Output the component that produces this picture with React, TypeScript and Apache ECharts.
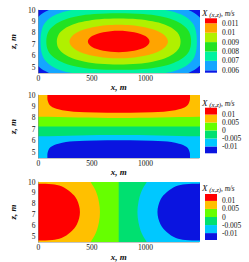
import React, { useEffect, useRef } from "react";
import * as echarts from "echarts";

const FONT = "'Liberation Serif', 'Times New Roman', serif";

// axes
const xTicks = [0, 500, 1000];
const zTicks = [5, 6, 7, 8, 9, 10];
const xMin = 0;
const xMax = 1500;
const zMin = 4.5;
const zMax = 10;

// ---------- Panel 1 : levels and contour lines (x [m], z [m]) ----------
const levels1 = [0.006, 0.007, 0.008, 0.009, 0.01, 0.011];
const colors1 = ["#0a18e6", "#14a6ff", "#00f2a0", "#22e222", "#b0f000", "#ffa400", "#ff0000"];
const domain = [[-2000, 0], [3500, 0], [3500, 15], [-2000, 15]];
const p1c006 = [[-76, 7.25], [-57, 8.65], [-1, 9.42], [94, 9.98], [230, 10.38], [415, 10.61], [750, 10.69], [1085, 10.61], [1270, 10.38], [1406, 9.98], [1501, 9.42], [1557, 8.65], [1576, 7.25], [1557, 5.85], [1501, 5.08], [1406, 4.52], [1270, 4.12], [1085, 3.89], [750, 3.81], [415, 3.89], [230, 4.12], [94, 4.52], [-1, 5.08], [-57, 5.85]];
const p1c007 = [[20, 7.25], [37, 8.46], [86, 9.13], [170, 9.62], [290, 9.96], [454, 10.16], [750, 10.23], [1046, 10.16], [1210, 9.96], [1330, 9.62], [1414, 9.13], [1463, 8.46], [1480, 7.25], [1463, 6.04], [1414, 5.37], [1330, 4.88], [1210, 4.54], [1046, 4.34], [750, 4.27], [454, 4.34], [290, 4.54], [170, 4.88], [86, 5.37], [37, 6.04]];
const p1c008 = [[74, 7.25], [92, 8.09], [148, 8.67], [238, 9.12], [362, 9.45], [520, 9.65], [750, 9.72], [980, 9.65], [1138, 9.45], [1262, 9.12], [1352, 8.67], [1408, 8.09], [1426, 7.25], [1408, 6.41], [1352, 5.83], [1262, 5.38], [1138, 5.05], [980, 4.85], [750, 4.78], [520, 4.85], [362, 5.05], [238, 5.38], [148, 5.83], [92, 6.41]];
const p1c009 = [[172, 7.25], [189, 7.87], [240, 8.34], [322, 8.73], [434, 9.01], [571, 9.19], [750, 9.25], [929, 9.19], [1066, 9.01], [1178, 8.73], [1260, 8.34], [1311, 7.87], [1328, 7.25], [1311, 6.63], [1260, 6.16], [1178, 5.77], [1066, 5.49], [929, 5.31], [750, 5.25], [571, 5.31], [434, 5.49], [322, 5.77], [240, 6.16], [189, 6.63]];
const p1c010 = [[290, 7.25], [306, 7.63], [352, 7.99], [425, 8.29], [520, 8.52], [631, 8.67], [750, 8.72], [869, 8.67], [980, 8.52], [1075, 8.29], [1148, 7.99], [1194, 7.63], [1210, 7.25], [1194, 6.87], [1148, 6.51], [1075, 6.21], [980, 5.98], [869, 5.83], [750, 5.78], [631, 5.83], [520, 5.98], [425, 6.21], [352, 6.51], [306, 6.87]];
const p1c011 = [[462, 7.25], [472, 7.49], [501, 7.72], [546, 7.91], [606, 8.06], [675, 8.15], [750, 8.18], [825, 8.15], [894, 8.06], [954, 7.91], [999, 7.72], [1028, 7.49], [1038, 7.25], [1028, 7.01], [999, 6.78], [954, 6.59], [894, 6.44], [825, 6.35], [750, 6.32], [675, 6.35], [606, 6.44], [546, 6.59], [501, 6.78], [472, 7.01]];

// ---------- Panel 2 ----------
const levels2 = [-0.01, -0.005, 0, 0.005, 0.01];
const colors2 = ["#0a14e0", "#00c8ff", "#00e070", "#66ff00", "#ffc000", "#ff0000"];
const p2Blue = [[84, 3.7], [84, 4.5], [87, 5.0], [115, 5.46], [187, 5.75], [330, 5.96], [750, 6.05], [1170, 5.96], [1313, 5.75], [1385, 5.46], [1413, 5.0], [1416, 4.5], [1416, 3.7]];
const p2Green = [[-400, 11], [1900, 11], [1900, 6.4], [1500, 6.4], [1125, 6.47], [750, 6.5], [375, 6.47], [0, 6.4], [-400, 6.4]];
const p2Yg = [[-400, 11], [1900, 11], [1900, 7.25], [1500, 7.25], [750, 7.25], [0, 7.25], [-400, 7.25]];
const p2Orange = [[-400, 11], [1900, 11], [1900, 8.1], [1500, 8.1], [1125, 8.04], [750, 8.0], [375, 8.04], [0, 8.1], [-400, 8.1]];
const p2Red = [[84, 10.8], [84, 10], [87, 9.5], [115, 9.04], [187, 8.75], [330, 8.54], [750, 8.45], [1170, 8.54], [1313, 8.75], [1385, 9.04], [1413, 9.5], [1416, 10], [1416, 10.8]];

// ---------- Panel 3 ----------
const levels3 = [-0.01, -0.005, 0, 0.005, 0.01];
const colors3 = ["#0a14e0", "#00c8ff", "#00e070", "#66ff00", "#ffc000", "#ff0000"];
const p3Blue = [[1900, 9.85], [1500, 9.85], [1371, 9.8], [1284, 9.62], [1198, 9.07], [1141, 8.4], [1112, 7.25], [1141, 6.1], [1198, 5.43], [1284, 4.88], [1371, 4.7], [1500, 4.65], [1900, 4.65]];
const p3Green = [[-400, 10.8], [1055, 10.8], [1012, 10], [965, 9.2], [935, 8.2], [925, 7.25], [935, 6.3], [965, 5.3], [1012, 4.5], [1055, 3.7], [-400, 3.7]];
const p3Yg = [[-400, 10.8], [750, 10.8], [750, 10.4], [750, 10], [750, 9], [750, 8], [750, 7], [750, 6], [750, 5], [750, 4.5], [750, 4.1], [750, 3.7], [-400, 3.7]];
const p3Orange = [[-400, 10.8], [445, 10.8], [488, 10], [535, 9.2], [565, 8.2], [575, 7.25], [565, 6.3], [535, 5.3], [488, 4.5], [445, 3.7], [-400, 3.7]];
const p3Red = [[-400, 9.85], [0, 9.85], [129, 9.8], [216, 9.62], [302, 9.07], [359, 8.4], [388, 7.25], [359, 6.1], [302, 5.43], [216, 4.88], [129, 4.7], [0, 4.65], [-400, 4.65]];

// colour-bar axis extents
const cb1 = [0.005745, 0.01153];
const cb2 = [-0.0143, 0.0143];
const cb3 = [-0.0143, 0.0143];

const layers1: [number, number[][]][] = [[0, domain], [1, p1c006], [2, p1c007], [3, p1c008], [4, p1c009], [5, p1c010], [6, p1c011]];
const layers2: [number, number[][]][] = [[1, domain], [0, p2Blue], [2, p2Green], [3, p2Yg], [4, p2Orange], [5, p2Red]];
const layers3: [number, number[][]][] = [[1, domain], [0, p3Blue], [2, p3Green], [3, p3Yg], [4, p3Orange], [5, p3Red]];

function contourSeries(idx: number, layers: [number, number[][]][], colors: string[]) {
  return {
    type: "custom",
    xAxisIndex: idx,
    yAxisIndex: idx,
    clip: true,
    silent: true,
    data: layers.map((l, i) => [l[1][0][0], l[1][0][1], i]),
    encode: { x: 0, y: 1 },
    renderItem: (_p: any, api: any) => {
      const layer = layers[api.value(2)];
      return {
        type: "polygon",
        shape: { points: layer[1].map((pt) => api.coord(pt)), smooth: 0.35 },
        style: { fill: colors[layer[0]], stroke: null },
      };
    },
  };
}

function barSeries(idx: number, levels: number[], ext: number[], colors: string[]) {
  const edges = [ext[0], ...levels, ext[1]];
  return {
    type: "custom",
    xAxisIndex: idx,
    yAxisIndex: idx,
    silent: true,
    data: colors.map((_c, i) => [0, edges[i], edges[i + 1], i]),
    encode: { x: 0, y: [1, 2] },
    renderItem: (_p: any, api: any) => {
      const p0 = api.coord([0, api.value(2)]);
      const p1 = api.coord([1, api.value(1)]);
      return {
        type: "rect",
        shape: { x: p0[0], y: p0[1], width: p1[0] - p0[0], height: p1[1] - p0[1] },
        style: { fill: colors[api.value(3)] },
      };
    },
  };
}

const labelStyle = { fontFamily: FONT, fontSize: 7.5, color: "#111" };
const nameStyle = { fontFamily: FONT, fontSize: 9, fontStyle: "italic", fontWeight: "bold", color: "#111" };

function mainX(i: number) {
  return {
    type: "value", gridIndex: i, min: xMin, max: xMax,
    name: "x, m", nameLocation: "middle", nameGap: 3, nameTextStyle: nameStyle,
    axisLine: { show: true, lineStyle: { color: "#888", width: 0.5 } },
    axisTick: { show: false }, splitLine: { show: false },
    axisLabel: { ...labelStyle, margin: 1, customValues: xTicks, formatter: (v: number) => String(v) },
    z: 10,
  };
}
function mainY(i: number) {
  return {
    type: "value", gridIndex: i, min: zMin, max: zMax,
    name: "z, m", nameLocation: "middle", nameGap: 13, nameTextStyle: nameStyle,
    axisLine: { show: true, lineStyle: { color: "#888", width: 0.5 } },
    axisTick: { show: false }, splitLine: { show: false },
    axisLabel: { ...labelStyle, margin: 3, customValues: zTicks, formatter: (v: number) => String(v) },
    z: 10,
  };
}
function cbX(i: number) {
  return { type: "value", gridIndex: i, min: 0, max: 1, show: false };
}
function cbY(i: number, levels: number[], ext: number[]) {
  return {
    type: "value", gridIndex: i, min: ext[0], max: ext[1], position: "right",
    axisLine: { show: false }, axisTick: { show: false }, splitLine: { show: false },
    axisLabel: { ...labelStyle, fontSize: 7.5, margin: 5, customValues: levels, formatter: (v: number) => String(+v.toFixed(4)) },
  };
}

function cbTitle(y: number) {
  return {
    type: "text", x: 202, y,
    style: {
      text: "{a|X}{b| (x,z)}{c|, m/s}",
      rich: {
        a: { fontFamily: FONT, fontSize: 9, fontStyle: "italic", fill: "#111", verticalAlign: "bottom" },
        b: { fontFamily: FONT, fontSize: 6.8, fontStyle: "italic", fill: "#111", verticalAlign: "bottom" },
        c: { fontFamily: FONT, fontSize: 7.2, fontStyle: "italic", fill: "#111", verticalAlign: "bottom" },
      },
      verticalAlign: "middle", textVerticalAlign: "middle",
      fill: "#111",
    },
  };
}

export default function App() {
  const ref = useRef<HTMLDivElement>(null);
  useEffect(() => {
    if (!ref.current) return;
    const chart = echarts.init(ref.current, undefined, { renderer: "svg" });
    chart.setOption({
      animation: false,
      backgroundColor: "#fff",
      grid: [
        { left: 25, top: 10, width: 174, height: 63 },
        { left: 25, top: 95, width: 174, height: 63 },
        { left: 25, top: 182, width: 174, height: 63 },
        { left: 205, top: 18.3, width: 12, height: 54.4 },
        { left: 205, top: 107.7, width: 12, height: 45.6 },
        { left: 205, top: 194, width: 12, height: 46 },
      ],
      xAxis: [mainX(0), mainX(1), mainX(2), cbX(3), cbX(4), cbX(5)],
      yAxis: [mainY(0), mainY(1), mainY(2), cbY(3, levels1, cb1), cbY(4, levels2, cb2), cbY(5, levels3, cb3)],
      series: [
        contourSeries(0, layers1, colors1),
        contourSeries(1, layers2, colors2),
        contourSeries(2, layers3, colors3),
        barSeries(3, levels1, cb1, colors1),
        barSeries(4, levels2, cb2, colors2),
        barSeries(5, levels3, cb3, colors3),
      ],
      graphic: [cbTitle(13), cbTitle(103), cbTitle(188)],
    });
    return () => chart.dispose();
  }, []);
  return (
    <div
      ref={ref}
      style={{ position: "fixed", left: 0, top: 0, width: 249, height: 262, background: "#fff" }}
    />
  );
}
